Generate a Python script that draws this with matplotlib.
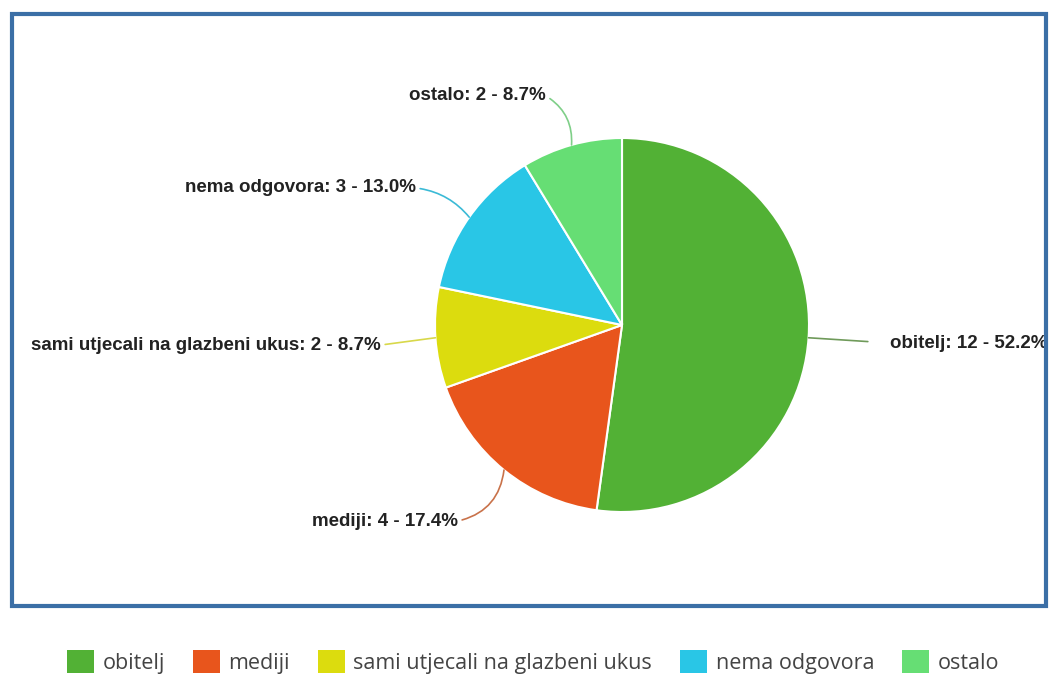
import matplotlib
matplotlib.use("Agg")
import matplotlib.pyplot as plt
from matplotlib.patches import Rectangle
import numpy as np

categories = ["obitelj", "mediji", "sami utjecali na glazbeni ukus", "nema odgovora", "ostalo"]
values = [12, 4, 2, 3, 2]
label_texts = ["obitelj: 12 - 52.2%", "mediji: 4 - 17.4%", "sami utjecali na glazbeni ukus: 2 - 8.7%",
               "nema odgovora: 3 - 13.0%", "ostalo: 2 - 8.7%"]
colors = ["#52b135", "#e8551c", "#dcdc0e", "#29c6e6", "#66de74"]
line_colors = ["#6f9a5a", "#c9724a", "#d8d84a", "#3bbad6", "#7fcf88"]

W, H = 1051, 682
fig = plt.figure(figsize=(W / 100, H / 100), dpi=100)
ax = fig.add_axes([0, 0, 1, 1])

cx, cy, r = 622, H - 325, 187
wedges, _ = ax.pie(values, colors=colors, startangle=90, counterclock=False,
                   center=(cx, cy), radius=r,
                   wedgeprops=dict(edgecolor="white", linewidth=1.5))
ax.set_xlim(0, W)
ax.set_ylim(0, H)
ax.set_aspect("equal")
ax.axis("off")

frame = Rectangle((12, H - 606), 1034, 592, fill=False,
                  edgecolor="#3b6fa6", linewidth=3, clip_on=False, zorder=5)
ax.add_patch(frame)

# label placement (pixel coords of text anchor), alignment
label_pos = [(890, 343, "left"), (458, 521, "right"), (381, 345, "right"),
             (416, 188, "right"), (546, 96, "right")]
rads = [0.0, 0.35, 0.0, -0.2, -0.3]
shrinks = [14, 1, 1, 1, 1]
total = sum(values)
cum = 0
for i, v in enumerate(values):
    mid = 90 - 360 * (cum + v / 2) / total
    cum += v
    ex = cx + r * np.cos(np.radians(mid))
    ey = cy + r * np.sin(np.radians(mid))
    tx, ty, ha = label_pos[i]
    relpos = (0, 0.5) if ha == "left" else (1, 0.5)
    ann = ax.annotate(label_texts[i], xy=(ex, ey), xytext=(tx, H - ty),
                      ha=ha, va="center", fontsize=13.5, fontweight="bold",
                      family="Liberation Sans", color="#222222",
                      arrowprops=dict(arrowstyle="-", color=line_colors[i], lw=1.2,
                                      shrinkA=shrinks[i], shrinkB=0, relpos=relpos,
                                      connectionstyle=f"arc3,rad={rads[i]}"))
    clip = Rectangle((12, H - 606), 1034, 592, transform=ax.transData)
    ann.set_clip_path(clip)

leg = fig.legend(wedges, categories, loc="center", bbox_to_anchor=(533 / W, 1 - 662 / H),
                 ncol=5, frameon=False, prop=dict(family="Open Sans", size=15.5),
                 handlelength=1.25, handleheight=1.25, handletextpad=0.4,
                 columnspacing=1.3, labelcolor="#444444")
for h in leg.legend_handles:
    h.set_edgecolor("none")

fig.savefig("out.png", dpi=100)
